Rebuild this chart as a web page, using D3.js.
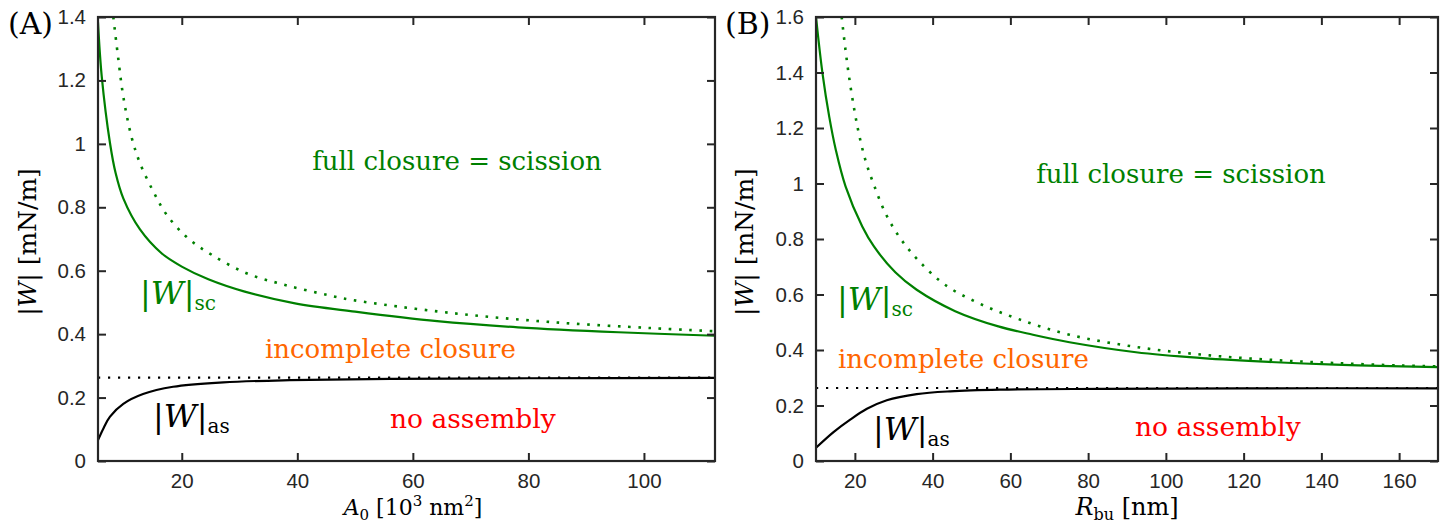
<!DOCTYPE html>
<html>
<head>
<meta charset="utf-8">
<script src="https://cdn.jsdelivr.net/npm/d3@7"></script>
<style>
  html, body { margin: 0; padding: 0; background: #fff; }
  svg { display: block; }
</style>
</head>
<body>
<svg id="chart" width="1443" height="527"></svg>
<script>
// ---------------- DATA ----------------
// Panel A: x = A0 [10^3 nm^2]
const aDomainX = [5.5, 112.3];
const aDomainY = [0, 1.4];
const aTicksX = [20, 40, 60, 80, 100];
const aTicksY = [0, 0.2, 0.4, 0.6, 0.8, 1, 1.2, 1.4];
const aTickLabelsY = ["0", "0.2", "0.4", "0.6", "0.8", "1", "1.2", "1.4"];

const aScX = [5.5, 6.15, 7.58, 8.56, 9.88, 12.77, 16.5, 20, 24.6, 30.9, 39.6, 50, 64.2, 78.2, 95.6, 112.3];
const aScW = [1.383, 1.212, 1.002, 0.907, 0.828, 0.73, 0.655, 0.613, 0.573, 0.534, 0.497, 0.471, 0.441, 0.4216, 0.406, 0.395];

const aScDotX = [8.15, 9.0, 9.88, 11.3, 12.77, 15.1, 17.4, 21.1, 25.2, 31.2, 37.9, 45.3, 49.4, 66.5, 84, 101.4, 112.3];
const aScDotW = [1.40, 1.27, 1.149, 1.022, 0.939, 0.849, 0.776, 0.702, 0.650, 0.592, 0.555, 0.523, 0.508, 0.467, 0.438, 0.419, 0.409];

const aAsX = [5.5, 6.5, 7.58, 9.88, 13.3, 18.5, 27.2, 38.7, 56, 80, 112.3];
const aAsW = [0.066, 0.105, 0.14, 0.18, 0.211, 0.234, 0.248, 0.255, 0.259, 0.261, 0.262];

const aAsDotX = [5.5, 112.3];
const aAsDotW = [0.263, 0.263];

// Panel B: x = R_bu [nm]
const bDomainX = [10, 170];
const bDomainY = [0, 1.6];
const bTicksX = [20, 40, 60, 80, 100, 120, 140, 160];
const bTicksY = [0, 0.2, 0.4, 0.6, 0.8, 1, 1.2, 1.4, 1.6];
const bTickLabelsY = ["0", "0.2", "0.4", "0.6", "0.8", "1", "1.2", "1.4", "1.6"];

const bScX = [10, 11.67, 13.4, 15.1, 17.6, 21.9, 24.9, 30.4, 35.9, 45.8, 56.9, 65.8, 75.2, 92.3, 109.4, 126.5, 143.5, 160.6, 170];
const bScW = [1.6, 1.397, 1.241, 1.121, 0.99, 0.845, 0.773, 0.68, 0.617, 0.54, 0.485, 0.455, 0.428, 0.392, 0.371, 0.357, 0.347, 0.341, 0.338];

const bScDotX = [16.6, 17.6, 18.5, 19.8, 21.1, 22.8, 24.9, 27.9, 31.7, 36.4, 43.2, 51.8, 62, 75.2, 92.3, 109.4, 126.5, 143.5, 160.6, 170];
const bScDotW = [1.6, 1.48, 1.385, 1.27, 1.175, 1.08, 0.995, 0.892, 0.802, 0.722, 0.635, 0.569, 0.512, 0.455, 0.411, 0.383, 0.365, 0.353, 0.344, 0.341];

const bAsX = [10, 14.5, 18.8, 23.1, 28.2, 35.9, 44.5, 57.3, 82.9, 120, 170];
const bAsW = [0.0475, 0.104, 0.149, 0.188, 0.219, 0.241, 0.251, 0.257, 0.26, 0.262, 0.262];

const bAsDotX = [10, 170];
const bAsDotW = [0.263, 0.263];

// Region labels
const regionLabels = ["full closure = scission", "incomplete closure", "no assembly"];
const panelLetters = ["(A)", "(B)"];

// ---------------- DRAWING ----------------
const svg = d3.select("#chart");
const GREEN = "#008000", ORANGE = "#ff6600", RED = "#ff0000", AX = "#262626";
const SERIF = "'DejaVu Serif', serif";
const SANS = "'Liberation Sans', Arial, sans-serif";

function zip(xs, ys) { return xs.map((x, i) => [x, ys[i]]); }

function mathText(g, x, y, parts, opts) {
  const t = g.append("text")
    .attr("x", x).attr("y", y)
    .attr("font-family", SERIF)
    .attr("font-size", opts.fs)
    .attr("fill", opts.fill || "#000")
    .attr("text-anchor", opts.anchor || "start");
  if (opts.rotate) t.attr("transform", `rotate(-90, ${x}, ${y})`);
  parts.forEach(p => {
    const s = t.append("tspan").text(p.t);
    if (p.it) s.attr("font-style", "italic");
    if (p.fs) s.attr("font-size", p.fs);
    if (p.dy) s.attr("dy", p.dy);
  });
  return t;
}

function panel(cfg) {
  const { left, right, top, bottom } = cfg;
  const x = d3.scaleLinear().domain(cfg.domX).range([left, right]);
  const y = d3.scaleLinear().domain(cfg.domY).range([bottom, top]);
  const g = svg.append("g");

  const clipId = "clip" + cfg.id;
  svg.append("clipPath").attr("id", clipId)
    .append("rect").attr("x", left).attr("y", top)
    .attr("width", right - left).attr("height", bottom - top);

  const line = d3.line().x(d => x(d[0])).y(d => y(d[1])).curve(d3.curveCatmullRom.alpha(0.5));
  const curves = g.append("g").attr("clip-path", `url(#${clipId})`);

  cfg.series.forEach(s => {
    curves.append("path")
      .attr("d", line(zip(s.x, s.y)))
      .attr("fill", "none")
      .attr("stroke", s.color)
      .attr("stroke-width", s.dotted ? s.dw : 2.2)
      .attr("stroke-dasharray", s.dotted ? s.dash : null)
      .attr("stroke-linejoin", "round");
  });

  const tl = 8;
  const axB = d3.axisBottom(x).tickValues(cfg.ticksX).tickSizeInner(-tl).tickSizeOuter(0).tickPadding(12);
  const axT = d3.axisTop(x).tickValues(cfg.ticksX).tickSizeInner(-tl).tickSizeOuter(0).tickFormat("");
  const axL = d3.axisLeft(y).tickValues(cfg.ticksY).tickSizeInner(-tl).tickSizeOuter(0).tickPadding(12)
    .tickFormat((d, i) => cfg.tickLabelsY[i]);
  const axR = d3.axisRight(y).tickValues(cfg.ticksY).tickSizeInner(-tl).tickSizeOuter(0).tickFormat("");

  const addAxis = (ax, tr) => {
    const a = g.append("g").attr("transform", tr).call(ax);
    a.selectAll("path.domain").remove();
    a.selectAll("line").attr("stroke", AX).attr("stroke-width", 2);
    a.selectAll("text").attr("font-family", SANS).attr("font-size", 20.5).attr("fill", AX);
    return a;
  };
  addAxis(axB, `translate(0,${bottom})`);
  addAxis(axT, `translate(0,${top})`);
  addAxis(axL, `translate(${left},0)`);
  addAxis(axR, `translate(${right},0)`);

  g.append("rect").attr("x", left).attr("y", top)
    .attr("width", right - left).attr("height", bottom - top)
    .attr("fill", "none").attr("stroke", AX).attr("stroke-width", 2.2);

  g.append("text").attr("x", cfg.letterX).attr("y", 34)
    .attr("font-family", SERIF).attr("font-size", 30).text(cfg.letter);

  mathText(g, cfg.ylabX, (top + bottom) / 2 + 3, [
    { t: "|" }, { t: "W", it: true }, { t: "| [mN/m]" }
  ], { fs: 25, anchor: "middle", rotate: true, fill: "#000" });

  mathText(g, cfg.xlabX, 515, cfg.xlabParts, { fs: cfg.xlabFs, anchor: "middle" });

  const L = cfg.labels;
  mathText(g, L.full[0], L.full[1], [{ t: regionLabels[0] }], { fs: 26, fill: GREEN, anchor: "middle" });
  mathText(g, L.inc[0], L.inc[1], [{ t: regionLabels[1] }], { fs: 26, fill: ORANGE });
  mathText(g, L.no[0], L.no[1], [{ t: regionLabels[2] }], { fs: 26.5, fill: RED });
  mathText(g, L.sc[0], L.sc[1], [
    { t: "|" }, { t: "W", it: true }, { t: "|" }, { t: "sc", fs: 20, dy: 6 }
  ], { fs: 32, fill: GREEN });
  mathText(g, L.as[0], L.as[1], [
    { t: "|" }, { t: "W", it: true }, { t: "|" }, { t: "as", fs: 20, dy: 6 }
  ], { fs: 32, fill: "#000" });
}

panel({
  id: "A", left: 98, right: 715, top: 17, bottom: 461,
  domX: aDomainX, domY: aDomainY, ticksX: aTicksX, ticksY: aTicksY, tickLabelsY: aTickLabelsY,
  letter: panelLetters[0], letterX: 8, ylabX: 36, xlabX: 413, xlabFs: 22,
  xlabParts: [
    { t: "A", it: true }, { t: "0", fs: 15, dy: 5 }, { t: " [10", dy: -5 }, { t: "3", fs: 15, dy: -9 },
    { t: " nm", dy: 9 }, { t: "2", fs: 15, dy: -9 }, { t: "]", dy: 9 }
  ],
  series: [
    { x: aScX, y: aScW, color: GREEN },
    { x: aScDotX, y: aScDotW, color: GREEN, dotted: true, dw: 2.6, dash: "2.6 7.6" },
    { x: aAsX, y: aAsW, color: "#000" },
    { x: aAsDotX, y: aAsDotW, color: "#000", dotted: true, dw: 2.2, dash: "2.2 7.8" }
  ],
  labels: { full: [457, 170], inc: [265, 358], no: [390, 428], sc: [140, 304], as: [153, 427] }
});

panel({
  id: "B", left: 816, right: 1438, top: 17, bottom: 461,
  domX: bDomainX, domY: bDomainY, ticksX: bTicksX, ticksY: bTicksY, tickLabelsY: bTickLabelsY,
  letter: panelLetters[1], letterX: 725, ylabX: 753, xlabX: 1127, xlabFs: 24,
  xlabParts: [
    { t: "R", it: true }, { t: "bu", fs: 16, dy: 5 }, { t: " [nm]", dy: -5 }
  ],
  series: [
    { x: bScX, y: bScW, color: GREEN },
    { x: bScDotX, y: bScDotW, color: GREEN, dotted: true, dw: 2.6, dash: "2.6 7.6" },
    { x: bAsX, y: bAsW, color: "#000" },
    { x: bAsDotX, y: bAsDotW, color: "#000", dotted: true, dw: 2.2, dash: "2.2 7.8" }
  ],
  labels: { full: [1181, 183], inc: [838, 368], no: [1135, 436], sc: [837, 310], as: [873, 440] }
});
</script>
</body>
</html>
